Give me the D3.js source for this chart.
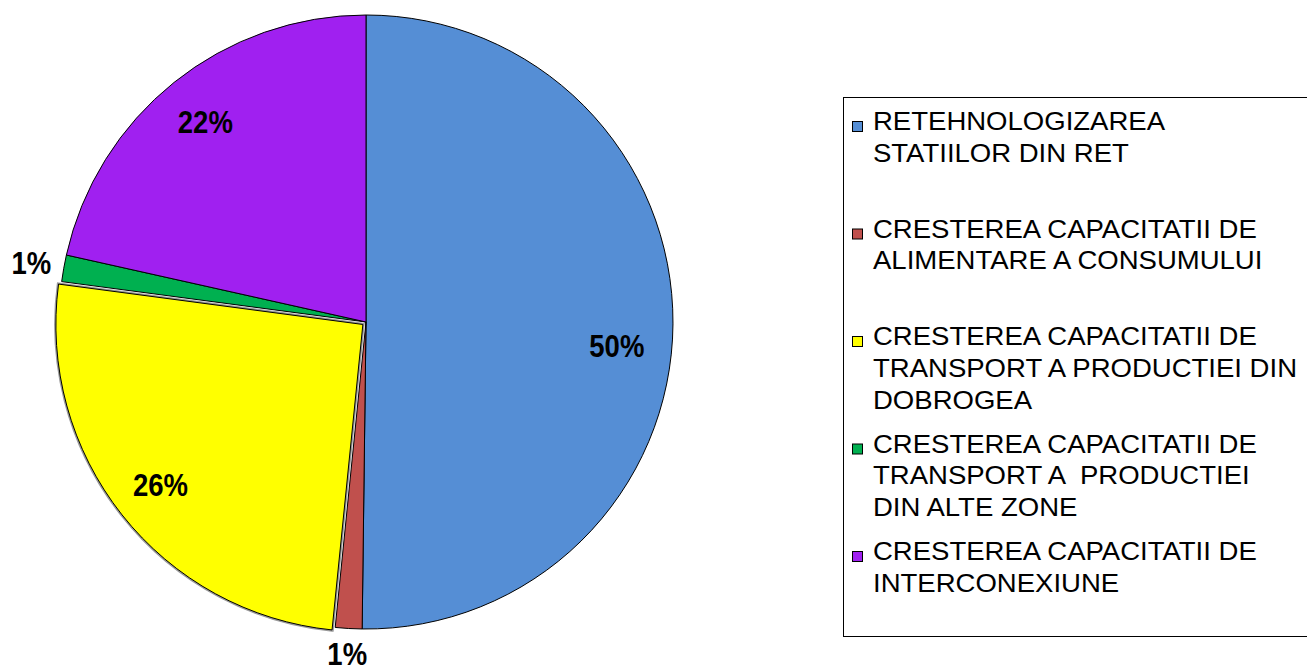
<!DOCTYPE html>
<html>
<head>
<meta charset="utf-8">
<script src="https://cdn.jsdelivr.net/npm/d3@7"></script>
<style>
  body { margin: 0; background: #fff; }
  text { font-family: Arial, "Liberation Sans", sans-serif; }
</style>
</head>
<body>
<svg id="chart" width="1307" height="671"></svg>
<script>
// categories (legend lines) and values in percent
var categories = [
    ["RETEHNOLOGIZAREA", "STATIILOR DIN RET"],
    ["CRESTEREA CAPACITATII DE", "ALIMENTARE A CONSUMULUI"],
    ["CRESTEREA CAPACITATII DE", "TRANSPORT A PRODUCTIEI DIN", "DOBROGEA"],
    ["CRESTEREA CAPACITATII DE", "TRANSPORT A  PRODUCTIEI", "DIN ALTE ZONE"],
    ["CRESTEREA CAPACITATII DE", "INTERCONEXIUNE"]
];
var values = [50.2, 1.4, 25.5, 1.4, 21.5];
var colors = ["#558ED5", "#C0504D", "#FFFF00", "#00B050", "#A020F0"];

var svg = d3.select('#chart');

var cx = 366, cy = 322, r = 307;
var explode = [0, 0, 4, 0, 0];      // yellow slice pulled out a bit
var labelR = [252, 332, 262, 340, 257];
var labelShift = [0.09, 0, 0, 0, 0]; // radians

var pie = d3.pie().sort(null).value(function(d) { return d; });
var arcs = pie(values);
var arc = d3.arc().innerRadius(0).outerRadius(r);

var g = svg.append('g').attr('transform', 'translate(' + cx + ',' + cy + ')');

function offset(d, i) {
    var a = (d.startAngle + d.endAngle) / 2;
    return 'translate(' + (Math.sin(a) * explode[i]) + ',' + (-Math.cos(a) * explode[i]) + ')';
}

// soft grey edge behind the pulled-out slice
g.selectAll('path.shadow')
    .data(arcs.filter(function(d, i) { return explode[i] > 0; }))
    .enter()
    .append('path')
    .attr('class', 'shadow')
    .attr('transform', function(d) { return offset(d, d.index); })
    .attr('d', arc)
    .attr('fill', 'none')
    .attr('stroke', '#9a9a9a')
    .attr('stroke-width', 3.5);

g.selectAll('path.slice')
    .data(arcs)
    .enter()
    .append('path')
    .attr('class', 'slice')
    .attr('transform', offset)
    .attr('d', arc)
    .attr('fill', function(d, i) { return colors[i]; })
    .attr('stroke', '#000')
    .attr('stroke-width', 1)
    .attr('stroke-linejoin', 'round');

g.selectAll('text.pct')
    .data(arcs)
    .enter()
    .append('text')
    .attr('class', 'pct')
    .attr('text-anchor', 'middle')
    .attr('dominant-baseline', 'central')
    .attr('transform', function(d, i) {
        var a = (d.startAngle + d.endAngle) / 2 + labelShift[i];
        return 'translate(' + (Math.sin(a) * labelR[i]) + ',' + (-Math.cos(a) * labelR[i]) + ') scale(1,1.15)';
    })
    .attr('font-size', '27.5px')
    .attr('font-weight', 'bold')
    .attr('fill', '#000')
    .text(function(d) { return Math.round(d.data) + '%'; });

// legend
svg.append('rect')
    .attr('x', 843.5)
    .attr('y', 97.5)
    .attr('width', 480)
    .attr('height', 539)
    .attr('fill', 'none')
    .attr('stroke', '#000')
    .attr('stroke-width', 1);

var legend = svg.selectAll('g.leg')
    .data(categories)
    .enter()
    .append('g')
    .attr('class', 'leg')
    .attr('transform', function(d, i) { return 'translate(0,' + (130 + i * 107.5) + ')'; });

legend.append('rect')
    .attr('x', 852.5)
    .attr('y', -8.5)
    .attr('width', 10)
    .attr('height', 10)
    .attr('fill', function(d, i) { return colors[i]; })
    .attr('stroke', '#000')
    .attr('stroke-width', 1);

legend.each(function(lines) {
    var t = d3.select(this).append('text')
        .attr('font-size', '25.5px')
        .attr('fill', '#000')
        .attr('transform', 'translate(873,0) scale(1.08,1)')
        .style('white-space', 'pre');
    lines.forEach(function(s, j) {
        t.append('tspan').attr('x', 0).attr('y', j * 32).text(s);
    });
});
</script>
</body>
</html>
